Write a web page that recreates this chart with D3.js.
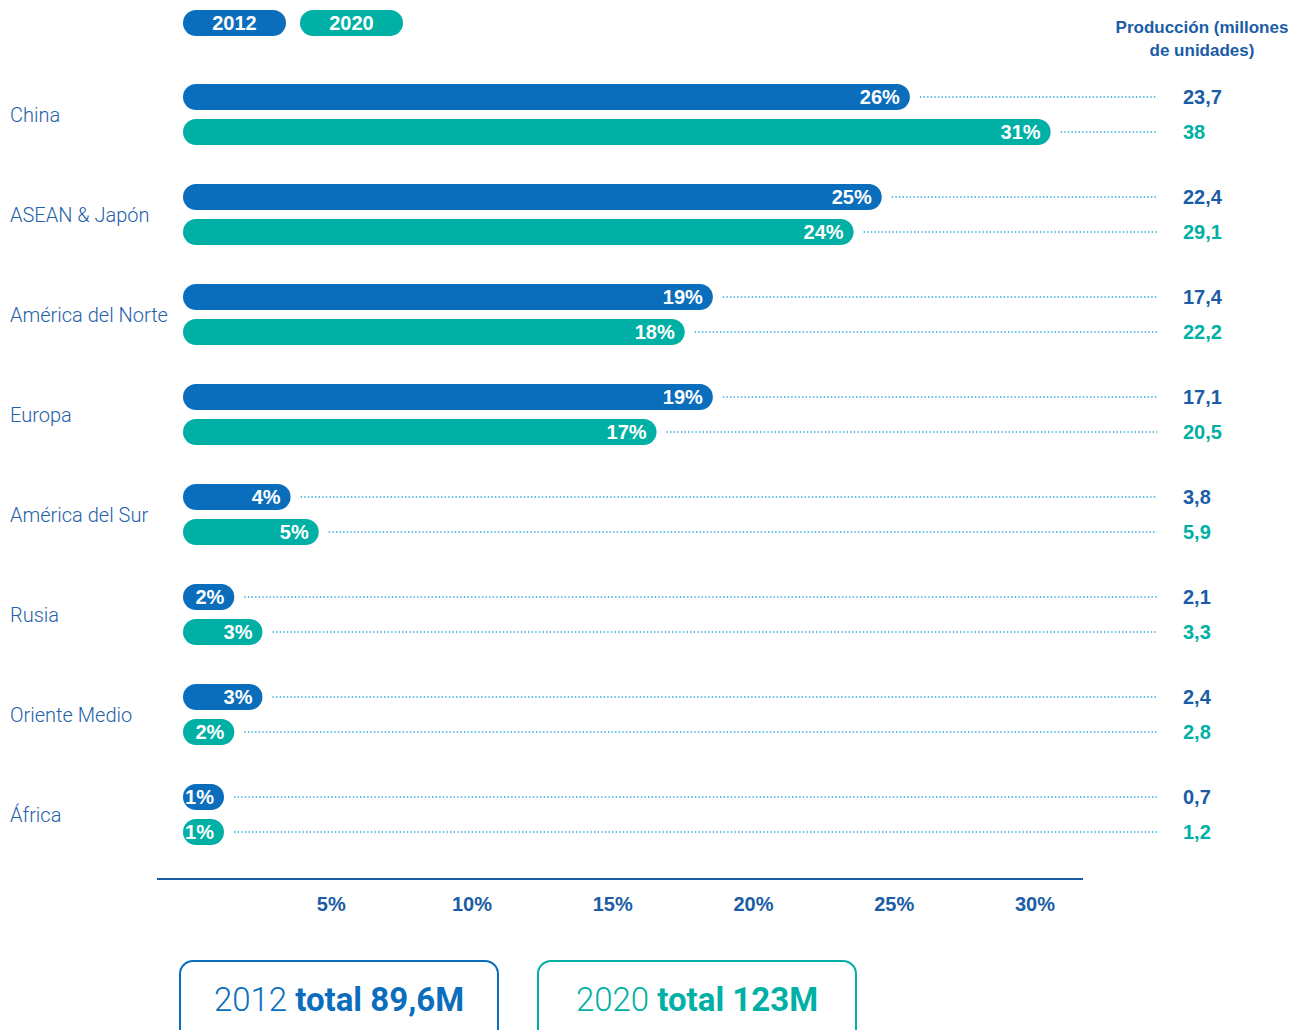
<!DOCTYPE html>
<html>
<head>
<meta charset="utf-8">
<script src="https://cdn.jsdelivr.net/npm/d3@7"></script>
<style>
  html, body { margin: 0; padding: 0; background: #ffffff; }
  svg { display: block; }
  text { font-family: "Liberation Sans", Arial, sans-serif; }
</style>
</head>
<body>
<svg id="chart" width="1308" height="1030"></svg>
<script>
// Regions and their share of world vehicle production
const regions = ["China", "ASEAN & Japón", "América del Norte", "Europa", "América del Sur", "Rusia", "Oriente Medio", "África"];
const share2012 = [26, 25, 19, 19, 4, 2, 3, 1];
const share2020 = [31, 24, 18, 17, 5, 3, 2, 1];
// Production, millions of units
const prod2012 = [23.7, 22.4, 17.4, 17.1, 3.8, 2.1, 2.4, 0.7];
const prod2020 = [38, 29.1, 22.2, 20.5, 5.9, 3.3, 2.8, 1.2];
const years = ["2012", "2020"];
const totals = ["89,6M", "123M"];
const tickValues = [5, 10, 15, 20, 25, 30];

const BLUE = "#0a6ebd";
const TEAL = "#00b0a5";
const TEXT_BLUE = "#1a5da6";
const DOT = "#2aa8e0";

const svg = d3.select("#chart");
const fmt = v => String(v).replace(".", ",");

const x = d3.scaleLinear().domain([0, 30]).range([178, 1022.5]);
const yGroup = d3.scaleBand().domain(regions).range([65, 865]).paddingInner(0).paddingOuter(0);
const barH = 26;
const barLeft = 183;
const minBar = 41;
const leaderEnd = 1157;

// Legend pills
const colors = [BLUE, TEAL];
const legend = svg.append("g");
years.forEach((yr, i) => {
  const lx = 183 + i * 117;
  legend.append("rect").attr("x", lx).attr("y", 10).attr("width", 103).attr("height", 26)
    .attr("rx", 13).attr("fill", colors[i]);
  legend.append("text").attr("x", lx + 51.5).attr("y", 30).attr("text-anchor", "middle")
    .attr("fill", "#fff").attr("font-weight", "bold").attr("font-size", 20).text(yr);
});

// Column header
const head = svg.append("text").attr("text-anchor", "middle").attr("fill", TEXT_BLUE)
  .attr("font-weight", "bold").attr("font-size", 17);
head.append("tspan").attr("x", 1202).attr("y", 33).text("Producción (millones");
head.append("tspan").attr("x", 1202).attr("y", 56).text("de unidades)");

// Region rows
const rows = regions.map((r, i) => ({
  region: r,
  series: [
    { share: share2012[i], prod: prod2012[i], color: BLUE, dy: -18 },
    { share: share2020[i], prod: prod2020[i], color: TEAL, dy: 17 }
  ]
}));

const g = svg.append("g").selectAll("g.row").data(rows).join("g")
  .attr("transform", d => `translate(0,${yGroup(d.region) + yGroup.bandwidth() / 2})`);

g.append("text").attr("x", 10).attr("y", 0).attr("dy", "0.35em")
  .attr("fill", "#2461a9").attr("font-size", 20).attr("font-weight", 300)
  .style("font-family", "Roboto, 'Liberation Sans', sans-serif")
  .text(d => d.region);

const bars = g.selectAll("g.bar").data(d => d.series).join("g")
  .attr("transform", d => `translate(0,${d.dy})`);

const barEnd = d => Math.max(x(d.share), barLeft + minBar);

bars.append("rect")
  .attr("x", barLeft).attr("y", -barH / 2)
  .attr("width", d => barEnd(d) - barLeft).attr("height", barH)
  .attr("rx", barH / 2).attr("fill", d => d.color);

bars.append("text")
  .attr("x", d => barEnd(d) - 10).attr("y", 0).attr("dy", "0.36em")
  .attr("text-anchor", "end").attr("fill", "#fff")
  .attr("font-weight", "bold").attr("font-size", 20)
  .text(d => d.share + "%");

bars.append("line")
  .attr("x1", d => barEnd(d) + 10).attr("x2", leaderEnd)
  .attr("y1", 0).attr("y2", 0)
  .attr("stroke", DOT).attr("stroke-width", 1.6)
  .attr("stroke-dasharray", "1.4,2.2");

bars.append("text")
  .attr("x", 1183).attr("y", 0).attr("dy", "0.36em")
  .attr("fill", d => d.color === BLUE ? TEXT_BLUE : TEAL)
  .attr("font-weight", "bold").attr("font-size", 20)
  .text(d => fmt(d.prod));

// Axis
svg.append("line").attr("x1", 157).attr("x2", 1083).attr("y1", 879).attr("y2", 879)
  .attr("stroke", TEXT_BLUE).attr("stroke-width", 2);

const axis = svg.append("g").attr("transform", "translate(0,879)")
  .call(d3.axisBottom(x).tickValues(tickValues).tickSize(0).tickFormat(d => d + "%"));
axis.select(".domain").remove();
axis.selectAll("text")
  .attr("dx", 12).attr("y", 18)
  .attr("fill", TEXT_BLUE).attr("font-weight", "bold").attr("font-size", 20)
  .style("font-family", "'Liberation Sans', Arial, sans-serif");

// Totals
years.forEach((yr, i) => {
  const bx = 180 + i * 358;
  const c = i === 0 ? BLUE : TEAL;
  svg.append("rect").attr("x", bx).attr("y", 961).attr("width", 318).attr("height", 90)
    .attr("rx", 13).attr("fill", "none").attr("stroke", c).attr("stroke-width", 2);
  const t = svg.append("text").attr("x", bx + 159).attr("y", 1011)
    .attr("text-anchor", "middle").attr("fill", c).attr("font-size", 33)
    .style("font-family", "Roboto, 'Liberation Sans', sans-serif");
  t.append("tspan").attr("font-weight", 300).text(yr + " ");
  t.append("tspan").attr("font-weight", "bold").text("total " + totals[i]);
});
</script>
</body>
</html>
